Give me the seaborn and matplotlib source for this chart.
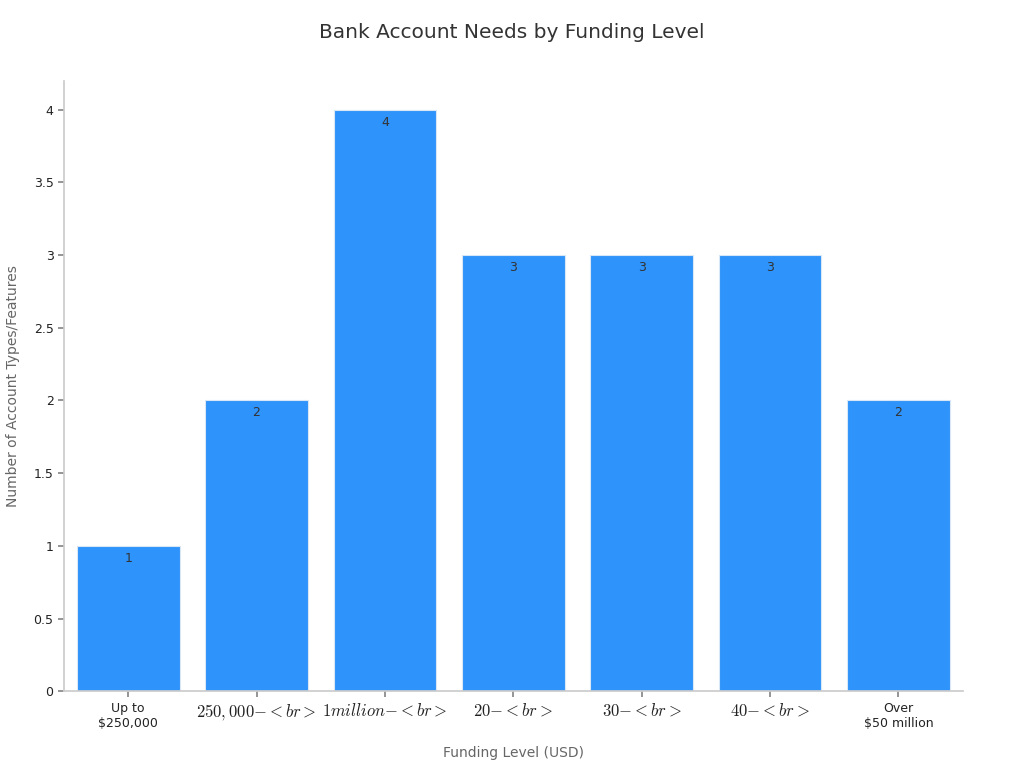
import matplotlib
matplotlib.use("Agg")
import matplotlib.pyplot as plt
import pandas as pd
import seaborn as sns
from matplotlib.ticker import FuncFormatter

funding_levels = [
    "Up to\n$250,000",
    "$250,000{-}<br>$",
    "$1 million{-}<br>$",
    "$20{-}<br>$",
    "$30{-}<br>$",
    "$40{-}<br>$",
    "Over\n$50 million",
]
account_needs = [1, 2, 4, 3, 3, 3, 2]

df = pd.DataFrame({"level": funding_levels, "needs": account_needs})

sns.set_theme(style="white")
plt.rcParams["font.family"] = ["DejaVu Sans"]
plt.rcParams["mathtext.fontset"] = "cm"

fig, ax = plt.subplots(figsize=(10.24, 7.68), dpi=100)
fig.subplots_adjust(left=0.0625, right=0.94, top=0.895, bottom=0.1)

sns.barplot(data=df, x="level", y="needs", color="#2E93FA", saturation=1,
            width=0.8, edgecolor="#d8e6f5", linewidth=0.8, ax=ax)

for i, v in enumerate(account_needs):
    ax.text(i, v - 0.04, str(v), ha="center", va="top", fontsize=9, color="#333333")

ax.set_xlim(-0.5, 6.5)
ax.set_ylim(0, 4.2)
ax.set_yticks([0, 0.5, 1, 1.5, 2, 2.5, 3, 3.5, 4])
ax.yaxis.set_major_formatter(FuncFormatter(lambda v, p: f"{v:g}"))

ax.tick_params(axis="both", which="both", length=4, color="#888888",
               labelsize=9, labelcolor="#222222", left=True, bottom=True)
for lbl in ax.get_xticklabels():
    if "<br>" in lbl.get_text():
        lbl.set_fontsize(12)

for side in ["top", "right"]:
    ax.spines[side].set_visible(False)
for side in ["left", "bottom"]:
    ax.spines[side].set_color("#cccccc")

ax.set_xlabel("Funding Level (USD)", fontsize=10, color="#666666", labelpad=12)
ax.set_ylabel("Number of Account Types/Features", fontsize=10, color="#666666", labelpad=10)
fig.suptitle("Bank Account Needs by Funding Level", fontsize=14.5, color="#333333", y=0.97)

fig.savefig("out.png", dpi=100)
